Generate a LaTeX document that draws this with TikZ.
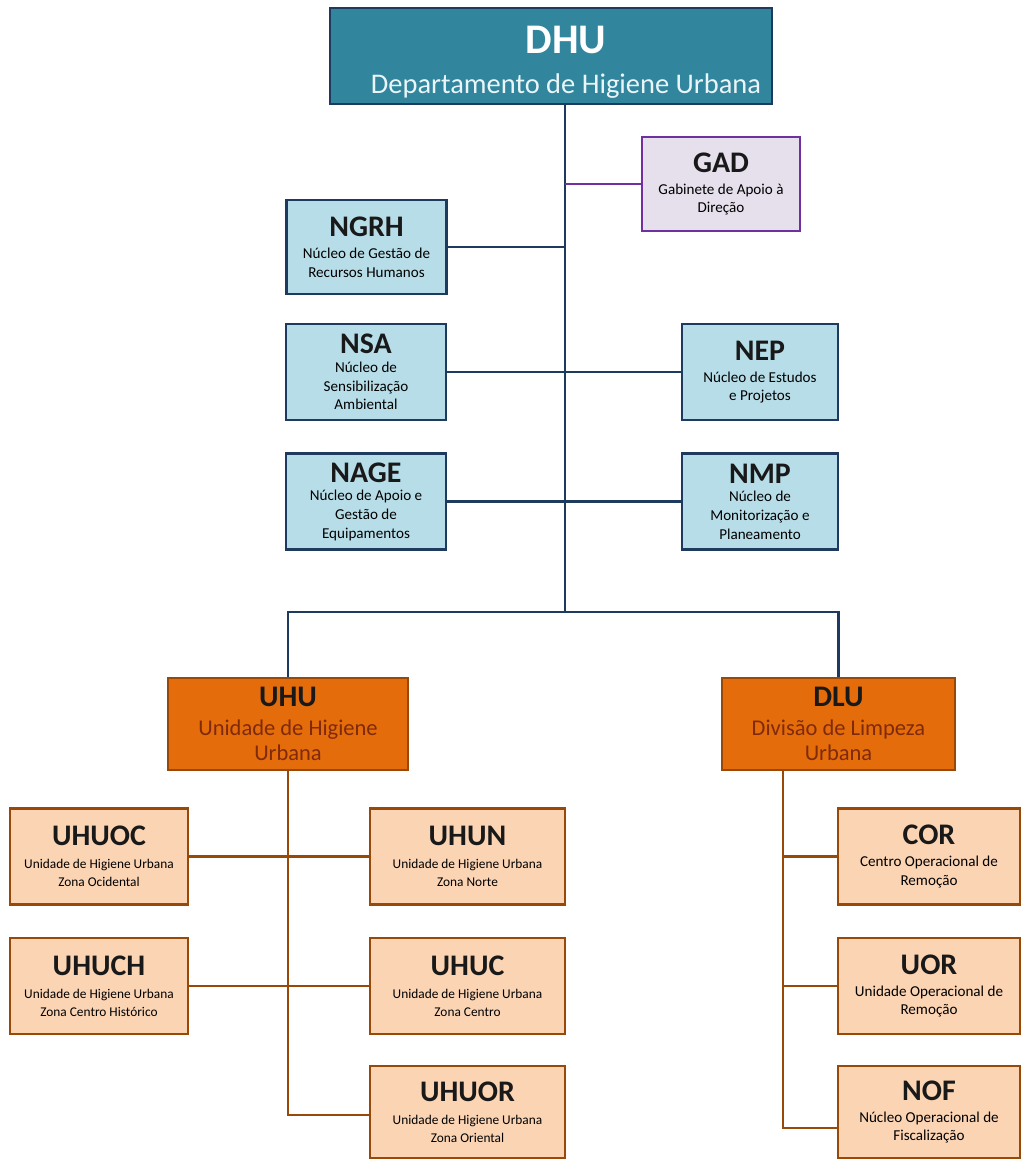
\documentclass[tikz,border=0pt]{standalone}
\usepackage{fontspec}
\setmainfont{Carlito}
\usetikzlibrary{calc}

\definecolor{teal1}{HTML}{31859C}
\definecolor{navy1}{HTML}{1F3A5F}
\definecolor{blue1}{HTML}{B7DEE8}
\definecolor{lav1}{HTML}{E5E0EC}
\definecolor{purp1}{HTML}{7030A0}
\definecolor{orng1}{HTML}{E46C0A}
\definecolor{orng2}{HTML}{FBD4B4}
\definecolor{brwn1}{HTML}{984807}
\definecolor{brwn2}{HTML}{7F2A0A}

\newcommand{\ttl}[1]{{\bfseries\fontsize{17}{18}\selectfont\color{black!90} #1}}

\begin{document}
\begin{tikzpicture}
			[box/.style={rectangle,draw,line width=1.5pt,align=center,inner sep=1pt,font=\fontsize{8.6}{10.6}\selectfont},
			nucleo/.style={box,fill=blue1,draw=navy1,minimum width=3.2cm,minimum height=1.92cm},
			unid/.style={box,fill=orng2,draw=brwn1,minimum height=1.92cm},
			urbana/.style={font=\fontsize{7.6}{10.2}\selectfont},
			main/.style={rectangle,draw,line width=1.5pt,align=center,minimum height=1.84cm,font=\fontsize{12.8}{14.5}\selectfont},
			edge/.style={line width=1.2pt,navy1},
			oedge/.style={line width=1.2pt,brwn1}]
			\useasboundingbox[fill=white] (0,0) rectangle (20.46,-23.2);

			\node[main,fill=teal1,draw=navy1,minimum width=8.84cm,minimum height=1.92cm,inner ysep=0pt,text=blue1!30!white,font=\fontsize{16.2}{18}\selectfont] (dhu) at (11.02,-1.12)
				{\hspace*{0.6cm}{\bfseries\fontsize{24}{26}\selectfont\color{white}\rule{0pt}{23pt}DHU}\\[5pt]\hspace*{0.6cm}Departamento de Higiene Urbana};
			\node[box,fill=lav1,draw=purp1,minimum width=3.16cm,minimum height=1.88cm] (gad) at (14.42,-3.68)
				{\ttl{GAD}\\[2pt]Gabinete de Apoio à\\Direção};
			\node[nucleo,minimum height=1.88cm] (ngrh) at (7.33,-4.94) {\ttl{NGRH}\\[2pt]Núcleo de Gestão de\\Recursos Humanos};
			\node[nucleo] (nsa) at (7.32,-7.44) {\ttl{NSA}\\Núcleo de\\Sensibilização\\Ambiental};
			\node[nucleo,minimum width=3.12cm] (nep) at (15.2,-7.44) {\ttl{NEP}\\[2pt]Núcleo de Estudos\\e Projetos};
			\node[nucleo] (nage) at (7.32,-10.03) {\ttl{NAGE}\\Núcleo de Apoio e\\Gestão de\\Equipamentos};
			\node[nucleo,minimum width=3.12cm] (nmp) at (15.2,-10.03) {\ttl{NMP}\\Núcleo de\\Monitorização e\\Planeamento};

			\node[main,fill=orng1,draw=brwn1,minimum width=4.8cm,text=brwn2] (uhu) at (5.76,-14.48)
				{\ttl{UHU}\\[2pt]Unidade de Higiene\\Urbana};
			\node[main,fill=orng1,draw=brwn1,minimum width=4.66cm,text=brwn2] (dlu) at (16.77,-14.48)
				{\ttl{DLU}\\[2pt]Divisão de Limpeza\\Urbana};

			\node[unid,urbana,minimum width=3.56cm] (uhuoc) at (1.98,-17.13) {\ttl{UHUOC}\\[3pt]Unidade de Higiene Urbana\\Zona Ocidental};
			\node[unid,urbana,minimum width=3.9cm] (uhun) at (9.35,-17.13) {\ttl{UHUN}\\[3pt]Unidade de Higiene Urbana\\Zona Norte};
			\node[unid,urbana,minimum width=3.56cm] (uhuch) at (1.98,-19.72) {\ttl{UHUCH}\\[3pt]Unidade de Higiene Urbana\\Zona Centro Histórico};
			\node[unid,urbana,minimum width=3.9cm] (uhuc) at (9.35,-19.72) {\ttl{UHUC}\\[3pt]Unidade de Higiene Urbana\\Zona Centro};
			\node[unid,urbana,minimum width=3.9cm,minimum height=1.84cm] (uhuor) at (9.35,-22.24) {\ttl{UHUOR}\\[3pt]Unidade de Higiene Urbana\\Zona Oriental};
			\node[unid,minimum width=3.64cm] (cor) at (18.58,-17.13) {\ttl{COR}\\[2pt]Centro Operacional de\\Remoção};
			\node[unid,minimum width=3.64cm] (uor) at (18.58,-19.72) {\ttl{UOR}\\[2pt]Unidade Operacional de\\Remoção};
			\node[unid,minimum width=3.64cm,minimum height=1.84cm] (nof) at (18.58,-22.24) {\ttl{NOF}\\[2pt]Núcleo Operacional de\\Fiscalização};

			% tronco do departamento
			\coordinate (trunk) at (11.3,-12.24);
			\draw[edge] (dhu.south -| trunk) -- (trunk);
			\draw[line width=1.2pt,purp1] (gad.west) -- (gad.west -| trunk);
			\foreach \n in {ngrh,nsa,nage}
			\draw[edge] (\n.east) -- (\n.east -| trunk);
			\foreach \n in {nep,nmp}
			\draw[edge] (\n.west) -- (\n.west -| trunk);
			\draw[edge] (uhu.north) |- (trunk) -| (dlu.north);

			% unidades
			\draw[oedge] (uhu.south) |- ($(uhuor.west)+(0,-0.06)$);
			\draw[oedge] (uhuoc.east) -- (uhun.west);
			\draw[oedge] (uhuch.east) -- (uhuc.west);

			\coordinate (dspine) at (15.66,-15.4);
			\draw[oedge] (dspine) |- ($(nof.west)+(0,-0.32)$);
			\foreach \n in {cor,uor}
			\draw[oedge] (\n.west) -- (\n.west -| dspine);

			\end{tikzpicture}
\end{document}
